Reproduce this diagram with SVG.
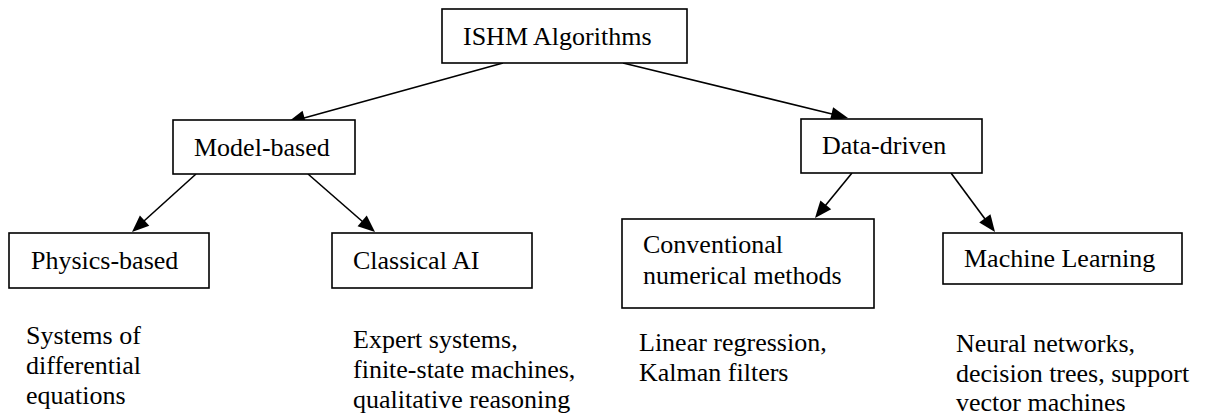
<svg xmlns="http://www.w3.org/2000/svg" width="1205" height="420" viewBox="0 0 1205 420">
  <style>
    .box { fill: #ffffff; stroke: #000000; stroke-width: 1.6; }
    .label { font-family: 'Liberation Serif', 'DejaVu Serif', serif; font-size: 26px; fill: #000000; }
    .edge { stroke: #000000; stroke-width: 1.6; fill: none; }
    .head { fill: #000000; stroke: none; }
  </style>
  <defs>
    <!-- filled arrowhead pointing along +x, tip at the origin -->
    <path id="head" class="head" d="M0,0 L-17,-7 L-17,7 z"/>
  </defs>
  <rect width="1205" height="420" fill="#ffffff"/>

  <!-- connectors: shafts stop at the arrowhead base, heads placed by rotation -->
  <g id="connectors">
    <line class="edge" x1="503" y1="63" x2="304" y2="118"/>
    <use href="#head" transform="translate(288 122) rotate(164.9)"/>
    <line class="edge" x1="623" y1="63" x2="832" y2="114"/>
    <use href="#head" transform="translate(848 118) rotate(13.7)"/>
    <line class="edge" x1="196" y1="174" x2="144" y2="221"/>
    <use href="#head" transform="translate(132 232) rotate(137.8)"/>
    <line class="edge" x1="308" y1="174" x2="363" y2="222"/>
    <use href="#head" transform="translate(375 232) rotate(40.9)"/>
    <line class="edge" x1="852" y1="173" x2="825" y2="206"/>
    <use href="#head" transform="translate(815 218) rotate(129.4)"/>
    <line class="edge" x1="951" y1="173" x2="985" y2="219"/>
    <use href="#head" transform="translate(995 232) rotate(53.3)"/>
  </g>

  <!-- root -->
  <g id="ishm">
    <rect class="box" x="442" y="9" width="245" height="54"/>
    <text class="label" x="463" y="45">ISHM Algorithms</text>
  </g>

  <!-- second level -->
  <g id="model-based">
    <rect class="box" x="173" y="120" width="182" height="54"/>
    <text class="label" x="194" y="156">Model-based</text>
  </g>
  <g id="data-driven">
    <rect class="box" x="801" y="119" width="181" height="54"/>
    <text class="label" x="822" y="154">Data-driven</text>
  </g>

  <!-- leaves -->
  <g id="physics-based">
    <rect class="box" x="9" y="233" width="200" height="55"/>
    <text class="label" x="31" y="269">Physics-based</text>
  </g>
  <g id="classical-ai">
    <rect class="box" x="332" y="233" width="200" height="55"/>
    <text class="label" x="353" y="269">Classical AI</text>
  </g>
  <g id="conventional">
    <rect class="box" x="622" y="219" width="252" height="89"/>
    <text class="label" x="643" y="253">Conventional</text>
    <text class="label" x="643" y="284">numerical methods</text>
  </g>
  <g id="machine-learning">
    <rect class="box" x="943" y="233" width="239" height="51"/>
    <text class="label" x="964" y="267">Machine Learning</text>
  </g>

  <!-- examples under each leaf -->
  <g id="physics-examples">
    <text class="label" x="26" y="344">Systems of</text>
    <text class="label" x="26" y="374">differential</text>
    <text class="label" x="26" y="404">equations</text>
  </g>
  <g id="classical-examples">
    <text class="label" x="353" y="348">Expert systems,</text>
    <text class="label" x="353" y="378">finite-state machines,</text>
    <text class="label" x="353" y="408">qualitative reasoning</text>
  </g>
  <g id="conventional-examples">
    <text class="label" x="639" y="351">Linear regression,</text>
    <text class="label" x="639" y="381">Kalman filters</text>
  </g>
  <g id="ml-examples">
    <text class="label" x="956" y="352">Neural networks,</text>
    <text class="label" x="956" y="382">decision trees, support</text>
    <text class="label" x="956" y="411">vector machines</text>
  </g>
</svg>
